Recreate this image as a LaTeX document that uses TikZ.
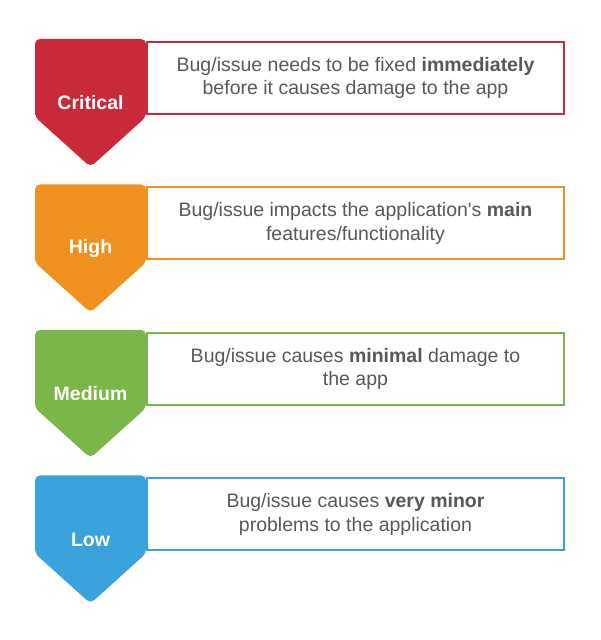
\documentclass[tikz,border=0pt]{standalone}
\usepackage{fontspec}
\setmainfont{Liberation Sans}
\usepackage{xcolor}
\usepackage{tikz}
\usetikzlibrary{positioning}

\definecolor{critcol}{HTML}{C92A3A}
\definecolor{highcol}{HTML}{F0901F}
\definecolor{medcol}{HTML}{7AB648}
\definecolor{lowcol}{HTML}{3BA3DB}
\definecolor{txtgray}{HTML}{595959}

\tikzset{
  descbox/.style={draw=#1, line width=2pt, fill=white, minimum width=417pt,
    minimum height=72pt, inner sep=0pt, align=center, text=txtgray,
    font=\fontsize{19.5}{23.5}\selectfont, anchor=north west},
  levelname/.style={text=white, font=\fontsize{19.5}{22}\selectfont\bfseries},
  badge/.style={fill=#1, rounded corners=5pt}
}

\begin{document}
\begin{tikzpicture}[x=1pt, y=1pt]
    \useasboundingbox (0,0) rectangle (600,640);

    % Critical
    \node[descbox=critcol] (critbox) at (146,599) {
      Bug/issue needs to be fixed \textbf{immediately}\\
      before it causes damage to the app};
    \path[badge=critcol] (35,601) -- (146,601) -- (146,523) -- (90.5,473)
      -- (35,523) -- cycle;
    \node[levelname] (crit) at (90.5,537) {Critical};

    % High
    \node[descbox=highcol] (highbox) at (146,453.5) {
      Bug/issue impacts the application\textquotesingle s \textbf{main}\\
      features/functionality};
    \path[badge=highcol] (35,455.5) -- (146,455.5) -- (146,377.5) -- (90.5,327.5)
      -- (35,377.5) -- cycle;
    \node[levelname] (high) at (90.5,391.5) {High};

    % Medium
    \node[descbox=medcol] (medbox) at (146,308) {
      Bug/issue causes \textbf{minimal} damage to\\
      the app};
    \path[badge=medcol] (35,310) -- (146,310) -- (146,232) -- (90.5,182)
      -- (35,232) -- cycle;
    \node[levelname] (med) at (90.5,246) {Medium};

    % Low
    \node[descbox=lowcol] (lowbox) at (146,162.5) {
      Bug/issue causes \textbf{very minor}\\
      problems to the application};
    \path[badge=lowcol] (35,164.5) -- (146,164.5) -- (146,86.5) -- (90.5,36.5)
      -- (35,86.5) -- cycle;
    \node[levelname] (low) at (90.5,100.5) {Low};
  \end{tikzpicture}
\end{document}
